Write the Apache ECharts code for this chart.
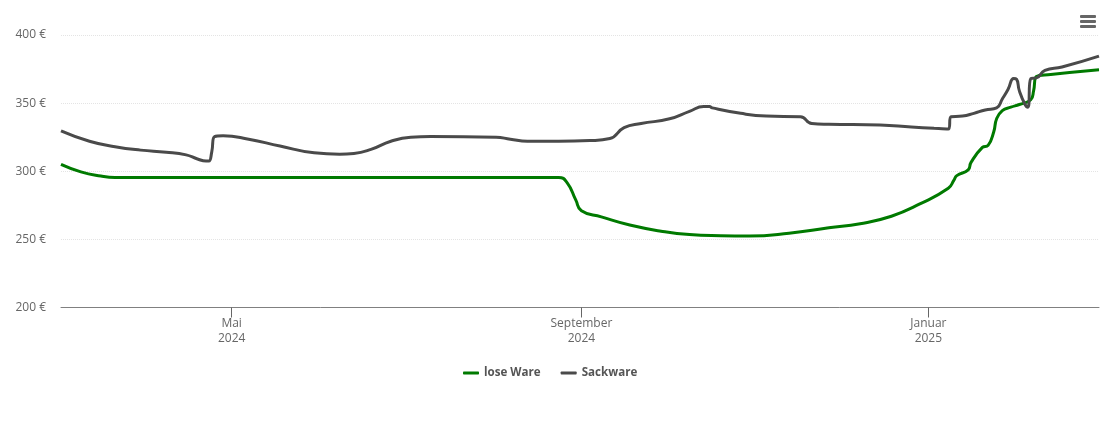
<!DOCTYPE html>
<html><head><meta charset="utf-8">
<style>html,body{margin:0;padding:0;background:#fff}#c{width:1110px;height:422px}</style>
<script src="https://cdn.jsdelivr.net/npm/echarts@6/dist/echarts.min.js"></script>
</head><body><div id="c"></div>
<script>
const seriesNames = ['lose Ware', 'Sackware'];
const looseDates = ['2024-03-02','2024-03-09','2024-03-16','2024-03-21','2024-08-24','2024-08-27','2024-08-30','2024-09-01','2024-09-08','2024-09-18','2024-09-29','2024-10-09','2024-10-20','2024-10-30','2024-11-13','2024-11-27','2024-12-08','2024-12-19','2024-12-29','2025-01-08','2025-01-10','2025-01-11','2025-01-15','2025-01-16','2025-01-20','2025-01-22','2025-01-24','2025-01-25','2025-01-27','2025-01-30','2025-02-02','2025-02-06','2025-02-07','2025-02-08','2025-02-13','2025-03-02'];
const looseValues = [305,299.5,296.5,295.5,295.5,291.5,279,271,266.5,260.5,256,253.5,252.7,252.5,254.5,258.5,261.5,267,276,287.5,293.5,296.8,301,306.5,317.5,319,329,338.5,344.5,347,349,352.5,359,369.5,371,374.5];
const sackDates = ['2024-03-02','2024-03-12','2024-03-21','2024-03-30','2024-04-08','2024-04-15','2024-04-19','2024-04-22','2024-04-23','2024-04-24','2024-04-25','2024-04-28','2024-05-07','2024-05-18','2024-05-30','2024-06-08','2024-06-13','2024-06-19','2024-06-26','2024-07-03','2024-07-10','2024-08-02','2024-08-07','2024-08-13','2024-08-24','2024-09-04','2024-09-11','2024-09-16','2024-09-22','2024-10-02','2024-10-09','2024-10-14','2024-10-16','2024-10-17','2024-10-27','2024-11-05','2024-11-17','2024-11-21','2024-11-27','2024-12-15','2024-12-26','2025-01-03','2025-01-08','2025-01-09','2025-01-13','2025-01-17','2025-01-21','2025-01-25','2025-01-27','2025-01-29','2025-01-31','2025-02-01','2025-02-02','2025-02-04','2025-02-05','2025-02-06','2025-02-08','2025-02-11','2025-02-17','2025-03-02'];
const sackValues = [329.6,322,318,315.5,314,312,309,307.5,307.5,314,325.5,326,323.5,318.5,313.5,312.5,313,316,322,325,325.5,325,323.5,322,322,322.5,324,332,335,338.5,344,347.5,347.5,346.5,342.5,340.5,340,335,334.5,334,332.5,331.5,331,340,340.5,342.5,345,346.5,353,360,368,367.5,359,349,347,368,368.5,374,376.5,384.5];
const tickDates = ['2024-05-01','2024-09-01','2025-01-01'];
const tickLabels = ['Mai\n2024','September\n2024','Januar\n2025'];
const colors = ['#007a00','#4a4a4a'];
const FONT = '"Open Sans", sans-serif';
const ts = s => new Date(s + 'T00:00:00Z').getTime();
const tickTimes = tickDates.map(ts);
const pairs = (d, v) => d.map((x, i) => [ts(x), v[i]]);
const chart = echarts.init(document.getElementById('c'), null, {renderer: 'canvas'});
const lineOpts = {type: 'line', smooth: 0.5, smoothMonotone: 'none', showSymbol: false, symbol: 'none', animation: false};
chart.setOption({
  animation: false,
  grid: {left: 61, right: 11, top: 35, bottom: 114.5},
  legend: {
    data: seriesNames.map(n => ({name: n, icon: 'roundRect'})),
    left: 458, top: 362, itemWidth: 16, itemHeight: 3, itemGap: 20,
    textStyle: {fontFamily: FONT, fontSize: 11.6, fontWeight: 'bold', color: '#555'}
  },
  xAxis: {
    type: 'value', min: ts('2024-03-02'), max: ts('2025-03-02'), scale: true,
    axisLine: {show: true, onZero: false, lineStyle: {color: '#808080', width: 1}},
    axisTick: {show: true, length: 10, customValues: tickTimes, lineStyle: {color: '#666', width: 1}},
    splitLine: {show: false},
    axisLabel: {
      customValues: tickTimes, margin: 9, lineHeight: 15,
      fontFamily: FONT, fontSize: 12, color: '#666',
      formatter: v => tickLabels[tickTimes.indexOf(v)] || ''
    }
  },
  yAxis: {
    type: 'value', min: 200, max: 400, interval: 50,
    axisLine: {show: false}, axisTick: {show: false},
    splitLine: {lineStyle: {color: '#e4e4e4', type: 'dotted', width: 1}},
    axisLabel: {margin: 15, padding: [2, 0, 0, 0], fontFamily: FONT, fontSize: 12, color: '#666', formatter: v => v + ' €'}
  },
  series: [
    Object.assign({}, lineOpts, {name: seriesNames[0], data: pairs(looseDates, looseValues), itemStyle: {color: colors[0]}, lineStyle: {width: 3, color: colors[0]}}),
    Object.assign({}, lineOpts, {name: seriesNames[1], data: pairs(sackDates, sackValues), itemStyle: {color: colors[1]}, lineStyle: {width: 3, color: colors[1]}})
  ],
  graphic: [16, 21, 26].map(y => ({
    type: 'rect', right: 14, top: y - 1, silent: true,
    shape: {width: 16, height: 3, r: 1}, style: {fill: '#666'}
  }))
});
</script></body></html>
